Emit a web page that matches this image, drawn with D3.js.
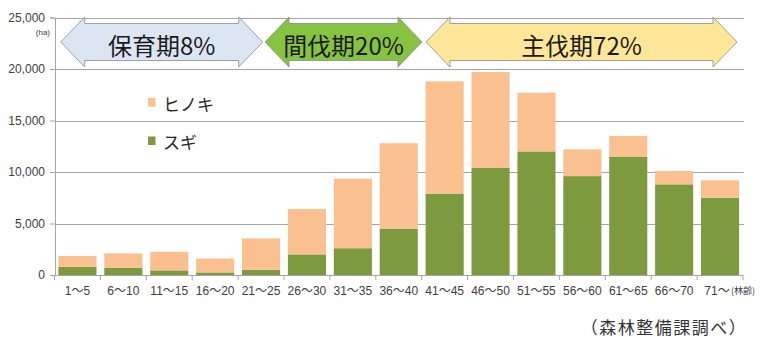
<!DOCTYPE html>
<html><head><meta charset="utf-8">
<script src="https://cdn.jsdelivr.net/npm/d3@7"></script>
<style>
html,body{margin:0;padding:0;background:#fff;}
svg{display:block;}
text{font-family:"Noto Sans CJK JP","Liberation Sans",sans-serif;}
</style></head>
<body>
<svg id="c" width="760" height="337"></svg>
<script>
const categories = ["1～5","6～10","11～15","16～20","21～25","26～30","31～35","36～40","41～45","46～50","51～55","56～60","61～65","66～70","71～"];
const sugi   = [800, 700, 450, 250, 500, 2000, 2600, 4500, 7900, 10400, 12000, 9600, 11500, 8800, 7500];
const hinoki = [1050, 1400, 1800, 1350, 3050, 4400, 6750, 8300, 10900, 9300, 5700, 2600, 2000, 1300, 1700];
const seriesNames = ["ヒノキ","スギ"];
const yTicks = [0, 5000, 10000, 15000, 20000, 25000];
const phaseLabels = ["保育期8%","間伐期20%","主伐期72%"];

const svg = d3.select("#c");
const x = d3.scaleBand().domain(categories).range([54.5, 743]).paddingInner(0.17).paddingOuter(0.085);
const y = d3.scaleLinear().domain([0, 25000]).range([275, 17.5]);
const colH = "#fac08f", colS = "#7d9b3e", gridCol = "#a6a6a6";

// gridlines
svg.append("g").selectAll("line").data(yTicks.filter(d=>d>0)).join("line")
  .attr("x1", 55).attr("x2", 744).attr("y1", d=>Math.round(y(d))+0.5).attr("y2", d=>Math.round(y(d))+0.5)
  .attr("stroke", gridCol).attr("stroke-width", 1.2);

// y axis
const yAxis = d3.axisLeft(y).tickValues(yTicks).tickFormat(d3.format(",")).tickSize(5).tickPadding(5);
const ga = svg.append("g").attr("transform","translate(55,0)").call(yAxis);
ga.select(".domain").attr("stroke", gridCol);
ga.selectAll(".tick line").attr("stroke", gridCol);
ga.selectAll("text").attr("fill","#404040").style("font-family","Liberation Sans, sans-serif").style("font-size","12px");

// bars
const stackData = categories.map((c,i)=>({c, s:sugi[i], h:hinoki[i]}));
svg.append("g").selectAll("rect").data(stackData).join("rect")
  .attr("x", d=>x(d.c)).attr("width", x.bandwidth())
  .attr("y", d=>y(d.s)).attr("height", d=>y(0)-y(d.s)).attr("fill", colS);
svg.append("g").selectAll("rect").data(stackData).join("rect")
  .attr("x", d=>x(d.c)).attr("width", x.bandwidth())
  .attr("y", d=>y(d.s+d.h)).attr("height", d=>y(d.s)-y(d.s+d.h)).attr("fill", colH);

// x axis
const step = x.step();
const x0 = 54.5;
svg.append("line").attr("x1", 55).attr("x2", 743).attr("y1", 275.5).attr("y2", 275.5).attr("stroke", gridCol);
svg.append("g").selectAll("line").data(d3.range(categories.length+1)).join("line")
  .attr("x1", i=>x0+i*step).attr("x2", i=>x0+i*step).attr("y1",275).attr("y2",280).attr("stroke", gridCol);
svg.append("g").selectAll("text").data(categories).join("text")
  .attr("x", d=>x(d)+x.bandwidth()/2 - (d==="71～"?3:0)).attr("y", 291).attr("text-anchor","middle").attr("dominant-baseline","central")
  .attr("fill","#404040").style("font-size","12px").style("font-family","Liberation Sans, Noto Sans CJK JP, sans-serif")
  .text(d=>d);
svg.append("text").attr("x", 731).attr("y", 290).attr("dominant-baseline","central").attr("fill","#404040")
  .style("font-size","9px").text("(林齢)");
svg.append("text").attr("x", 50).attr("y", 32).attr("text-anchor","end").attr("dominant-baseline","central")
  .attr("fill","#404040").style("font-size","8px").style("font-family","Liberation Sans, sans-serif").text("(ha)");

// legend
const lg = svg.append("g");
[colH, colS].forEach((c,i)=>{
  lg.append("rect").attr("x",148).attr("y", 98 + i*38.5).attr("width",7.5).attr("height",8.5).attr("fill",c);
  lg.append("text").attr("x",163).attr("y",103 + i*38.5).attr("dominant-baseline","central")
    .attr("fill","#262626").style("font-size","17px").text(seriesNames[i]);
});

// phase arrows
const arrows = [
  {x0:60.7, x1:262.7, fill:"#dce6f2"},
  {x0:265, x1:422, fill:"#86c341"},
  {x0:426, x1:737, fill:"#ffe699"}
];
const cy = 42, h = 24, sh = 18.5, hh = 25;
arrows.forEach((a,i)=>{
  const p = d3.path();
  p.moveTo(a.x0, cy); p.lineTo(a.x0+h, cy-hh); p.lineTo(a.x0+h, cy-sh); p.lineTo(a.x1-h, cy-sh);
  p.lineTo(a.x1-h, cy-hh); p.lineTo(a.x1, cy); p.lineTo(a.x1-h, cy+hh); p.lineTo(a.x1-h, cy+sh);
  p.lineTo(a.x0+h, cy+sh); p.lineTo(a.x0+h, cy+hh); p.closePath();
  svg.append("path").attr("d", p.toString()).attr("fill", a.fill).attr("stroke","#8c8c8c").attr("stroke-width",0.8);
  svg.append("text").attr("x",(a.x0+a.x1)/2).attr("y", 44).attr("text-anchor","middle").attr("dominant-baseline","central")
    .attr("fill","#1a1a1a").style("font-size","24px").text(phaseLabels[i]);
});

// source
svg.append("text").attr("x", 664).attr("y", 326).attr("text-anchor","middle").attr("dominant-baseline","central")
  .attr("fill","#333").style("font-size","17px").style("letter-spacing","1.5px").text("（森林整備課調べ）");
</script>
</body></html>
